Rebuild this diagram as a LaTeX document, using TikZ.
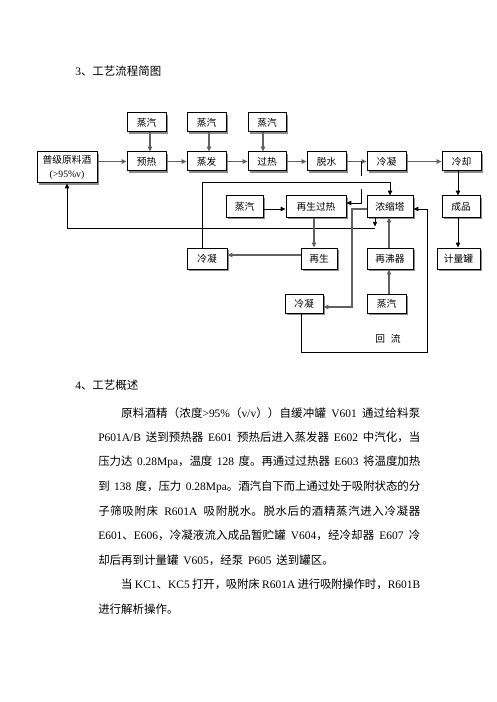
\documentclass[tikz,border=0pt]{standalone}
\usepackage{fontspec}
\setmainfont{Noto Sans CJK SC}
\newfontfamily\lat{Liberation Serif}
\usetikzlibrary{arrows.meta}
\XeTeXlinebreaklocale "zh"
\XeTeXlinebreakskip=0pt plus 2pt minus 0.4pt
\tolerance=10000
\hbadness=10000
\hfuzz=20pt
\newcommand\lblf{\fontsize{7.3pt}{10pt}\selectfont}
\newcommand\bodyf{\fontsize{8.6pt}{10pt}\selectfont\spaceskip=0.42em plus 0.5em minus 0.2em\relax}
\newcommand\jl[1]{\parfillskip=0pt\relax #1\par}
\newcommand\bx[6]{%
  \fill[shadowc] ({#2+1.8},{#3+1.8}) rectangle ({#4+1.8},{#5+1.8});
  \node[box, minimum width={(#4-#2)*0.75pt}, minimum height={(#5-#3)*0.75pt}] (#1) at ({(#2+#4)/2},{(#3+#5)/2}) {#6};
}
\tikzset{
  shadowc/.style={fill=black!45},
  box/.style={draw=black, line width=0.75pt, fill=white, inner sep=0pt, font=\lblf, align=center},
  tip/.style={-{Triangle[length=3.6pt,width=3.2pt]}},
  arrG/.style={draw=black!62, line width=1.1pt, tip},
  arrK/.style={draw=black, line width=0.7pt, tip},
  lnK/.style={draw=black, line width=0.7pt},
  lbl/.style={inner sep=0pt, font=\lblf},
  head/.style={inner sep=0pt, anchor=west, font=\bodyf},
  bodyj/.style={inner sep=0pt, anchor=west, text width=241.5pt, align=justify, font=\bodyf},
  bodyr/.style={inner sep=0pt, anchor=west, font=\bodyf},
}
\begin{document}
\begin{tikzpicture}[x=0.75pt,y=-0.75pt]
\fill[white] (0,0) rectangle (496,702);
\useasboundingbox (0,0) rectangle (496,702);

\node[head] (h3) at (75,71) {{\lat 3}、工艺流程简图};

% boxes
\bx{steamA}{127}{113}{166}{132}{蒸汽}
\bx{steamB}{187}{113}{226}{132}{蒸汽}
\bx{steamC}{248}{113}{286}{132}{蒸汽}
\bx{raw}{37}{152}{97}{183}{普级原料酒\\{\lat (>95\%v)}}
\bx{pre}{127}{152}{166}{171}{预热}
\bx{evap}{187}{152}{226}{171}{蒸发}
\bx{sup}{248}{152}{286}{171}{过热}
\bx{dehy}{307}{152}{346}{171}{脱水}
\bx{condT}{367}{152}{406}{171}{冷凝}
\bx{cool}{442}{152}{481}{171}{冷却}
\bx{steamM}{226}{196}{263}{217}{蒸汽}
\bx{regsup}{286}{196}{346}{217}{再生过热}
\bx{tower}{367}{196}{413}{217}{浓缩塔}
\bx{prod}{442}{196}{480}{217}{成品}
\bx{condL}{187}{248}{227}{269}{冷凝}
\bx{regen}{301}{248}{337}{269}{再生}
\bx{reb}{367}{248}{413}{269}{再沸器}
\bx{meter}{437}{248}{480}{269}{计量罐}
\bx{condB}{285}{294}{323}{313}{冷凝}
\bx{steamD}{367}{294}{406}{313}{蒸汽}

\node[lbl] (hl) at (388,339) {回\hspace{0.6em}流};

% top row
\draw[arrG] (raw.east |- pre.west) -- (pre.west);
\draw[arrG] (pre) -- (evap);
\draw[arrG] (evap) -- (sup);
\draw[arrG] (sup) -- (dehy);
\draw[arrG] (dehy) -- (condT);
\draw[arrG] (condT) -- (cool);
\draw[arrG] (150,0 |- steamA.south) -- (150,0 |- pre.north);
\draw[arrG] (209,0 |- steamB.south) -- (209,0 |- evap.north);
\draw[arrG] (263,0 |- steamC.south) -- (263,0 |- sup.north);

% right column
\draw[arrK] (458,0 |- cool.south) -- (458,0 |- prod.north);
\draw[arrK] (458,0 |- prod.south) -- (458,0 |- meter.north);

% branch from dehydration line to regeneration superheater
\coordinate (j1) at (361,161.5);
\coordinate (j2) at (361,176);
\coordinate (j3) at (361,189);
\draw[lnK] (j1) -- (j2);
\draw[arrK] (j3) -- (361,203) -- (regsup.east |- 0,203);

% condenser (left) to tower top
\draw[arrK] (202,0 |- condL.north) -- (202,182) -- (tower.north |- 0,182) -- (tower.north);

% tower bottom back to raw material
\coordinate (j4) at (375,228.3);
\draw[arrK] (375,0 |- tower.south) -- (375,226.6);
\draw[arrK] (j4) -- (67,228.3) -- (raw.south);

% middle
\draw[arrK] (steamM.east |- 0,209) -- (regsup.west |- 0,209);
\draw[arrG] (314,0 |- regsup.south) -- (314,0 |- regen.north);
\draw[arrG] (regen.west |- 0,255) -- (condL.east |- 0,255);
\draw[arrG] (389,0 |- reb.north) -- (389,0 |- tower.south);
\draw[arrG] (389,0 |- steamD.north) -- (389,0 |- reb.south);
\draw[arrG] (tower.west |- 0,209) -- (352,209) -- (352,307) -- (condB.east |- 0,307);

% reflux loop
\draw[arrK] (301,0 |- condB.south) -- (301,352) -- (427,352) -- (427,209) -- (tower.east |- 0,209);

% text
\node[head] (h4) at (75,385) {{\lat 4}、工艺概述};
\node[bodyj] (l1) at (98,413) {\jl{\hspace*{2em}原料酒精（浓度{\lat >95\%}（{\lat v/v}））自缓冲罐 {\lat V601} 通过给料泵}};
\node[bodyj] (l2) at (98,437.5) {\jl{{\lat P601A/B} 送到预热器 {\lat E601} 预热后进入蒸发器 {\lat E602} 中汽化，当}};
\node[bodyj] (l3) at (98,462) {\jl{压力达 {\lat 0.28Mpa}，温度 {\lat 128} 度。再通过过热器 {\lat E603} 将温度加热}};
\node[bodyj] (l4) at (98,486.5) {\jl{到 {\lat 138} 度，压力 {\lat 0.28Mpa}。酒汽自下而上通过处于吸附状态的分}};
\node[bodyj] (l5) at (98,511) {\jl{子筛吸附床 {\lat R601A} 吸附脱水。脱水后的酒精蒸汽进入冷凝器}};
\node[bodyj] (l6) at (98,535.5) {\jl{{\lat E601}、{\lat E606}，冷凝液流入成品暂贮罐 {\lat V604}，经冷却器 {\lat E607} 冷}};
\node[bodyr] (l7) at (98,560) {却后再到计量罐 {\lat V605}，经泵 {\lat P605} 送到罐区。};
\node[bodyj] (l8) at (98,584.5) {\jl{\spaceskip=0.25em plus 0.5em minus 0.1em\relax\hspace*{2em}当 {\lat KC1}、{\lat KC5} 打开，吸附床 {\lat R601A} 进行吸附操作时，{\lat R601B}}};
\node[bodyr] (l9) at (98,609) {进行解析操作。};
\end{tikzpicture}
\end{document}
